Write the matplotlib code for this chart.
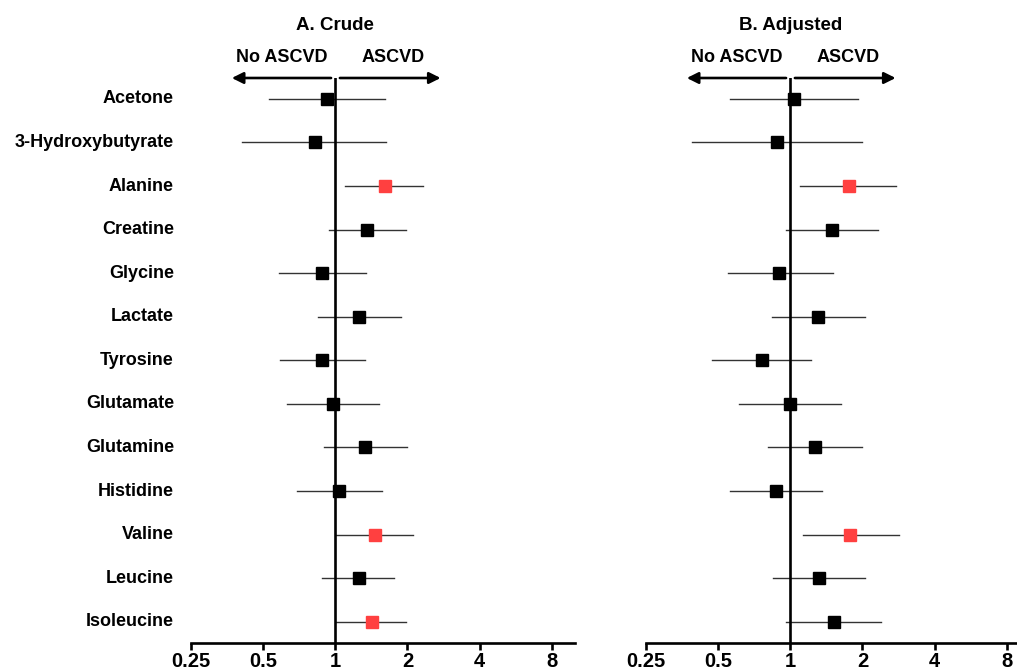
import numpy as np
import matplotlib
matplotlib.use('Agg')
import matplotlib.pyplot as plt
from matplotlib.ticker import FixedLocator, NullLocator

plt.rcParams['font.family'] = ['Liberation Sans', 'DejaVu Sans']
plt.rcParams['font.weight'] = 'bold'

metabolites = ['Acetone', '3-Hydroxybutyrate', 'Alanine', 'Creatine', 'Glycine',
               'Lactate', 'Tyrosine', 'Glutamate', 'Glutamine', 'Histidine',
               'Valine', 'Leucine', 'Isoleucine']

# odds ratios with 95% CI
crude_or = [0.92, 0.82, 1.61, 1.36, 0.88, 1.26, 0.88, 0.98, 1.33, 1.04, 1.47, 1.25, 1.42]
crude_lo = [0.53, 0.41, 1.10, 0.94, 0.58, 0.85, 0.59, 0.63, 0.90, 0.69, 1.01, 0.88, 1.01]
crude_hi = [1.61, 1.62, 2.33, 1.97, 1.34, 1.88, 1.33, 1.52, 1.99, 1.57, 2.11, 1.76, 1.97]
crude_sig = [False, False, True, False, False, False, False, False, False, False, True, False, True]

adj_or = [1.04, 0.88, 1.75, 1.49, 0.90, 1.31, 0.76, 1.00, 1.27, 0.87, 1.78, 1.32, 1.52]
adj_lo = [0.56, 0.39, 1.10, 0.96, 0.55, 0.84, 0.47, 0.61, 0.81, 0.56, 1.13, 0.85, 0.96]
adj_hi = [1.92, 1.99, 2.76, 2.33, 1.51, 2.05, 1.22, 1.62, 1.99, 1.35, 2.83, 2.05, 2.39]
adj_sig = [False, False, True, False, False, False, False, False, False, False, True, False, False]

tick_vals = [0.25, 0.5, 1, 2, 4, 8]
tick_labels = ['0.25', '0.5', '1', '2', '4', '8']

fig = plt.figure(figsize=(10.17, 6.72), dpi=100)
W, H = 1017, 672

# axes placed in pixels: x = 0.25 .. 10 on a log2 scale, ~72 px per doubling
ax1 = fig.add_axes([191 / W, (H - 642.7) / H, 384 / W, 564.7 / H])
ax2 = fig.add_axes([646 / W, (H - 642.7) / H, 384 / W, 564.7 / H])

panels = [
    (ax1, 'A. Crude', crude_or, crude_lo, crude_hi, crude_sig),
    (ax2, 'B. Adjusted', adj_or, adj_lo, adj_hi, adj_sig),
]

rows = np.arange(len(metabolites))

for ax, title, ors, lo, hi, sig in panels:
    ax.set_xscale('log', base=2)
    ax.set_xlim(0.25, 10)
    ax.set_ylim(len(metabolites) - 0.52, -0.48)

    for i in rows:
        ax.plot([lo[i], hi[i]], [i, i], color='#333333', lw=1.0, zorder=2)
        col = '#FF4040' if sig[i] else 'black'
        ax.plot(ors[i], i, marker='s', markersize=8.5, color=col,
                markeredgecolor=col, zorder=3)

    ax.axvline(1, color='black', lw=1.9, zorder=4)

    for s in ['top', 'right', 'left']:
        ax.spines[s].set_visible(False)
    ax.spines['bottom'].set_linewidth(1.9)
    ax.xaxis.set_major_locator(FixedLocator(tick_vals))
    ax.xaxis.set_minor_locator(NullLocator())
    ax.set_xticklabels(tick_labels)
    ax.tick_params(axis='x', direction='out', length=5, width=1.9,
                   labelsize=14.5, pad=2)
    ax.set_yticks([])

    # direction arrows above the plot
    ax.annotate('', xy=(0.37, 1.0), xytext=(0.96, 1.0),
                xycoords=('data', 'axes fraction'),
                arrowprops=dict(arrowstyle='-|>', lw=1.9, color='black',
                                mutation_scale=17, shrinkA=0, shrinkB=0),
                annotation_clip=False)
    ax.annotate('', xy=(2.75, 1.0), xytext=(1.045, 1.0),
                xycoords=('data', 'axes fraction'),
                arrowprops=dict(arrowstyle='-|>', lw=1.9, color='black',
                                mutation_scale=17, shrinkA=0, shrinkB=0),
                annotation_clip=False)
    ax.text(0.6, 1.0 + 20 / 564.7, 'No ASCVD', transform=ax.get_xaxis_transform(),
            ha='center', va='center', fontsize=13, fontweight='bold')
    ax.text(1.75, 1.0 + 20 / 564.7, 'ASCVD', transform=ax.get_xaxis_transform(),
            ha='center', va='center', fontsize=13, fontweight='bold')
    ax.text(1.0, 1.0 + 53 / 564.7, title, transform=ax.get_xaxis_transform(),
            ha='center', va='center', fontsize=13.5, fontweight='bold')

# metabolite names on the left panel only
for i in rows:
    ax1.text(0.25 * 2 ** (-17 / 72.1), i, metabolites[i], ha='right', va='center',
             fontsize=13, fontweight='bold')

fig.savefig('out.png', dpi=100)
